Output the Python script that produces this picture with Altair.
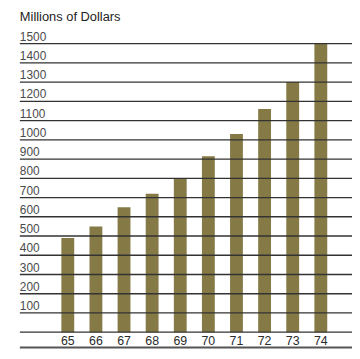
import altair as alt
import pandas as pd

years = [65, 66, 67, 68, 69, 70, 71, 72, 73, 74]
year_labels = ["65", "66", "67", "68", "69", "70", "71", "72", "73", "74"]
values = [490, 550, 650, 720, 800, 915, 1030, 1160, 1300, 1500]
grid_values = [0, 100, 200, 300, 400, 500, 600, 700, 800, 900, 1000, 1100, 1200, 1300, 1400, 1500]
tick_labels = ["", "100", "200", "300", "400", "500", "600", "700", "800", "900", "1000",
               "1100", "1200", "1300", "1400", "1500"]
title_text = "Millions of Dollars"

W, H = 336, 292
bars_df = pd.DataFrame({"year": years, "label": year_labels, "value": values})
grid_df = pd.DataFrame({"v": grid_values, "t": tick_labels})

xs = alt.Scale(domain=[63.295, 75.109], nice=False, zero=False, padding=0)
ys = alt.Scale(domain=[0, 1500], nice=False, padding=0)

bars = alt.Chart(bars_df).mark_bar(size=13, color="#857a46").encode(
    x=alt.X("year:Q", scale=xs, axis=None),
    y=alt.Y("value:Q", scale=ys, axis=None),
)

xlabels = alt.Chart(bars_df).mark_text(
    fontSize=12.5, font="Liberation Sans", color="#2a2a2a", baseline="alphabetic", align="center"
).encode(
    x=alt.X("year:Q", scale=xs, axis=None),
    y=alt.value(H + 13),
    text="label:N",
)

grid = alt.Chart(grid_df).mark_rule(color="#333333", strokeWidth=1.3).encode(
    y=alt.Y("v:Q", scale=ys, axis=None),
    x=alt.value(0),
    x2=alt.value(W),
)

ylabels = alt.Chart(grid_df).mark_text(
    fontSize=12, font="Liberation Sans", color="#4a4a4a", align="left",
    baseline="alphabetic", dy=-3
).encode(
    y=alt.Y("v:Q", scale=ys, axis=None),
    x=alt.value(0),
    text="t:N",
)

title = alt.Chart(pd.DataFrame({"t": [title_text]})).mark_text(
    fontSize=13, font="Liberation Sans", color="#222222", align="left", baseline="alphabetic"
).encode(x=alt.value(0), y=alt.value(-23), text="t:N")

bottom = alt.Chart(pd.DataFrame({"a": [0]})).mark_rule(color="#555555", strokeWidth=2).encode(
    x=alt.value(0), x2=alt.value(W), y=alt.value(H + 15.5)
)

chart = alt.layer(bars, grid, ylabels, xlabels, title, bottom).properties(
    width=W, height=H,
    padding={"left": 12, "top": 34, "right": 0, "bottom": 17},
    autosize=alt.AutoSizeParams(type="none"),
).configure_view(stroke=None)

chart.save("out.html", embed_options={"renderer": "svg", "actions": False})
